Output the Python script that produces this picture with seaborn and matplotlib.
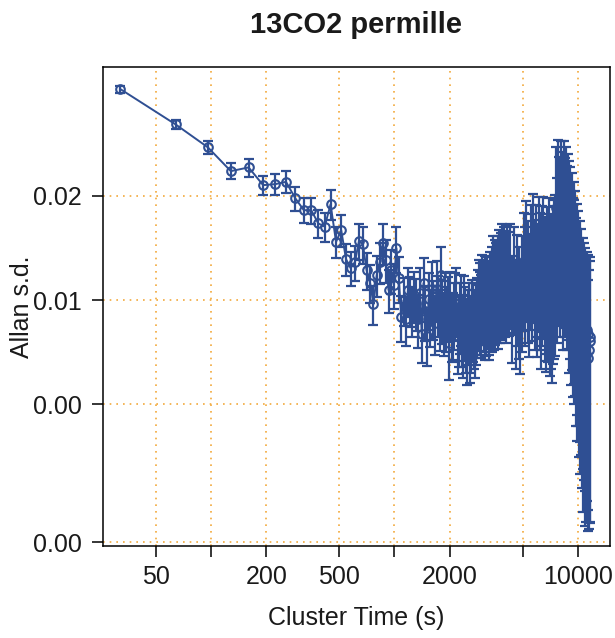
import numpy as np
import pandas as pd
import matplotlib
matplotlib.use("Agg")
import matplotlib.pyplot as plt
import seaborn as sns
from matplotlib.ticker import FixedLocator, FixedFormatter, NullLocator

# ---- data ----
tau = [
    32, 64, 96, 128, 160, 192, 224, 256, 288, 320,
    352, 384, 416, 448, 480, 512, 544, 576, 608, 640,
    672, 704, 736, 768, 800, 832, 864, 896, 928, 960,
    992, 1024, 1056, 1088, 1120, 1152, 1184, 1216, 1248, 1280,
    1312, 1344, 1376, 1408, 1440, 1472, 1504, 1536, 1568, 1600,
    1632, 1664, 1696, 1728, 1760, 1792, 1824, 1856, 1888, 1920,
    1952, 1984, 2016, 2048,
    2112, 2176, 2240, 2304, 2368, 2432, 2496, 2560, 2624, 2688,
    2752, 2816, 2880, 2944, 3008, 3072, 3136, 3200, 3264, 3328,
    3392, 3456, 3520, 3584, 3648, 3712, 3776, 3840, 3904, 3968,
    4032, 4096,
    4192, 4288, 4384, 4480, 4576, 4672, 4768, 4864, 4960, 5056,
    5152, 5248, 5344, 5440, 5536, 5632, 5728, 5824, 5920, 6016,
    6112, 6208, 6304, 6400, 6496, 6592, 6688, 6784, 6880, 6976,
    7072, 7168, 7264, 7360, 7456, 7552, 7648, 7744, 7840, 7936,
    8032, 8128, 8224, 8320, 8416, 8512, 8608, 8704, 8800, 8896,
    8992, 9088, 9184, 9280, 9376, 9472, 9568, 9664, 9760, 9856,
    9952, 10048, 10144, 10240, 10336, 10432, 10528, 10624, 10720, 10816,
    10912, 11008, 11104, 11200, 11296, 11392, 11488, 11584, 11680,
]

allan_sd = [
    0.04065, 0.03215, 0.0276, 0.02357, 0.02416, 0.02148, 0.02162, 0.02195, 0.01966, 0.01819,
    0.01815, 0.01665, 0.0163, 0.01889, 0.01473, 0.01592, 0.01313, 0.01237, 0.01287, 0.0148,
    0.01451, 0.01221, 0.0112, 0.00974, 0.01181, 0.0129, 0.01461, 0.01305, 0.01069, 0.01221,
    0.01105, 0.01413, 0.01157, 0.00893, 0.0100, 0.0088, 0.01069, 0.0100, 0.00936, 0.01034,
    0.0098, 0.0088, 0.0105, 0.0080, 0.0112, 0.0093, 0.0079, 0.0101, 0.0090, 0.0108,
    0.0095, 0.0086, 0.0108, 0.0098, 0.0089, 0.0118, 0.0094, 0.0087, 0.0099, 0.0090,
    0.0096, 0.0075, 0.0099, 0.0085,
    0.0092, 0.0101, 0.0083, 0.0096, 0.0078, 0.0088, 0.0075, 0.0090, 0.0082, 0.0089,
    0.0080, 0.0092, 0.0103, 0.0095, 0.0106, 0.0098, 0.0093, 0.0104, 0.0097, 0.0107,
    0.0100, 0.0118, 0.0106, 0.0112, 0.0104, 0.0122, 0.0113, 0.0126, 0.0116, 0.0120,
    0.0111, 0.0124,
    0.0118, 0.0124, 0.0100, 0.0121, 0.0097, 0.0114, 0.0105, 0.0096, 0.0112, 0.0130,
    0.0118, 0.0140, 0.0122, 0.0112, 0.0135, 0.0127, 0.0144, 0.0121, 0.0133, 0.0117,
    0.0140, 0.0125, 0.0111, 0.0130, 0.0138, 0.0120, 0.0112, 0.0128, 0.0122, 0.0135,
    0.0113, 0.0119, 0.0110, 0.0126, 0.0131, 0.0135, 0.0185, 0.0150, 0.0193, 0.0172,
    0.0160, 0.0190, 0.0176, 0.0152, 0.0188, 0.0168, 0.0180, 0.0158, 0.0170, 0.0162,
    0.0140, 0.0155, 0.0132, 0.0148, 0.0125, 0.0138, 0.0122, 0.0130, 0.0108, 0.0118,
    0.0100, 0.0112, 0.0093, 0.0104, 0.0085, 0.0098, 0.0080, 0.0092, 0.0070, 0.0088,
    0.0066, 0.0085, 0.0070, 0.0082, 0.0068, 0.0080, 0.0072, 0.0076, 0.0078,
]

allan_sd_err = [
    0.0009, 0.0010, 0.0012, 0.00123, 0.00143, 0.00137, 0.00149, 0.00162, 0.00155, 0.00151,
    0.00158, 0.00152, 0.00155, 0.00185, 0.0015, 0.00169, 0.00143, 0.00139, 0.00148, 0.00175,
    0.00176, 0.00151, 0.00142, 0.00127, 0.00157, 0.00174, 0.00202, 0.00183, 0.00153, 0.00178,
    0.00164, 0.00213, 0.00177, 0.00138, 0.00158, 0.00141, 0.00173, 0.00165, 0.00156, 0.00175,
    0.00168, 0.00153, 0.00185, 0.00142, 0.00202, 0.00169, 0.00145, 0.00188, 0.0017, 0.00207,
    0.00183, 0.00168, 0.00213, 0.00195, 0.00179, 0.0024, 0.00193, 0.0018, 0.00207, 0.0019,
    0.00204, 0.00161, 0.00215, 0.00186,
    0.00204, 0.00228, 0.00191, 0.00224, 0.00185, 0.00211, 0.00183, 0.00223, 0.00206, 0.00227,
    0.00206, 0.00241, 0.00273, 0.00256, 0.00288, 0.0027, 0.00259, 0.00293, 0.00276, 0.00308,
    0.00292, 0.00348, 0.00316, 0.00337, 0.00316, 0.00375, 0.00351, 0.00396, 0.00368, 0.00384,
    0.00359, 0.00404,
    0.0039, 0.00415, 0.0034, 0.00416, 0.00339, 0.00404, 0.00376, 0.00348, 0.00411, 0.00484,
    0.00444, 0.00533, 0.0047, 0.00437, 0.00532, 0.00507, 0.0058, 0.00492, 0.00548, 0.00487,
    0.00589, 0.00531, 0.00477, 0.00564, 0.00606, 0.00532, 0.00502, 0.00579, 0.00558, 0.00622,
    0.00527, 0.00559, 0.00523, 0.00605, 0.00634, 0.0066, 0.00912, 0.00747, 0.00971, 0.00872,
    0.00819, 0.00982, 0.00917, 0.008, 0.00998, 0.00899, 0.00972, 0.00861, 0.00935, 0.00899,
    0.00783, 0.00874, 0.00751, 0.0085, 0.00724, 0.00806, 0.00719, 0.00772, 0.00647, 0.00713,
    0.00609, 0.00688, 0.00577, 0.0065, 0.00536, 0.00622, 0.00513, 0.00594, 0.00456, 0.00578,
    0.00437, 0.00568, 0.00471, 0.00557, 0.00465, 0.00552, 0.00501, 0.00533, 0.00551,
]

# extra cluster times in the dense middle stretch (odd cluster counts 65..127)
tau_mid = [
    2080, 2144, 2208, 2272, 2336, 2400, 2464, 2528, 2592, 2656,
    2720, 2784, 2848, 2912, 2976, 3040, 3104, 3168, 3232, 3296,
    3360, 3424, 3488, 3552, 3616, 3680, 3744, 3808, 3872, 3936,
    4000, 4064,
]
allan_sd_mid = [
    0.0086, 0.0098, 0.0079, 0.0091, 0.0084, 0.0095, 0.0081, 0.0086, 0.0077, 0.0091,
    0.0085, 0.0088, 0.0097, 0.0101, 0.0093, 0.0102, 0.0105, 0.0096, 0.0101, 0.0094,
    0.0103, 0.0110, 0.0102, 0.0115, 0.0108, 0.0117, 0.0109, 0.0119, 0.0112, 0.0123,
    0.0115, 0.0119,
]
allan_sd_err_mid = [
    0.0019, 0.0022, 0.0018, 0.00211, 0.00197, 0.00227, 0.00196, 0.00212, 0.00192, 0.0023,
    0.00218, 0.00229, 0.00255, 0.0027, 0.00251, 0.00279, 0.00291, 0.00269, 0.00286, 0.0027,
    0.00299, 0.00322, 0.00302, 0.00345, 0.00327, 0.00358, 0.00337, 0.00371, 0.00353, 0.00391,
    0.0037, 0.00387,
]

x_ticks = [50, 100, 200, 500, 1000, 2000, 5000, 10000]
x_tick_labels = ["50", "", "200", "500", "", "2000", "", "10000"]
y_ticks = [0.002, 0.005, 0.01, 0.02]
y_tick_labels = ["0.00", "0.00", "0.01", "0.02"]

title = "13CO2 permille"
x_label = "Cluster Time (s)"
y_label = "Allan s.d."

# ---- styling ----
sns.set_theme(style="ticks")
plt.rcParams["font.family"] = ["Liberation Sans", "DejaVu Sans"]

color = "#2f4f93"
grid_color = "#f2a93b"

fig = plt.figure(figsize=(6.15, 6.38), dpi=100)
ax = fig.add_axes([103 / 615, 1 - 546 / 638, 507 / 615, 479 / 638])

df = pd.concat([
    pd.DataFrame({"tau": tau, "adev": allan_sd, "err": allan_sd_err}),
    pd.DataFrame({"tau": tau_mid, "adev": allan_sd_mid, "err": allan_sd_err_mid}),
]).sort_values("tau").reset_index(drop=True)

ax.errorbar(df["tau"], df["adev"], yerr=df["err"], fmt="none", ecolor=color,
            elinewidth=1.6, capsize=3.6, capthick=1.6, zorder=3)
sns.lineplot(data=df, x="tau", y="adev", ax=ax, color=color, linewidth=1.4,
             marker="o", markersize=6.2, markerfacecolor="none",
             markeredgecolor=color, markeredgewidth=1.5, zorder=4,
             errorbar=None)

ax.set_xscale("log")
ax.set_yscale("log")
ax.set_xlim(25.7, 14980)
ax.set_ylim(0.00195, 0.0471)

ax.xaxis.set_major_locator(FixedLocator(x_ticks))
ax.xaxis.set_major_formatter(FixedFormatter(x_tick_labels))
ax.xaxis.set_minor_locator(NullLocator())
ax.yaxis.set_major_locator(FixedLocator(y_ticks))
ax.yaxis.set_major_formatter(FixedFormatter(y_tick_labels))
ax.yaxis.set_minor_locator(NullLocator())

ax.grid(True, which="major", color=grid_color, linestyle=(0, (1, 3)), linewidth=1.2)
ax.set_axisbelow(True)

for s in ax.spines.values():
    s.set_visible(True)
    s.set_color("black")
    s.set_linewidth(1.1)

ax.tick_params(axis="both", which="major", length=8, width=1.1, color="black",
               labelsize=18, labelcolor="#1a1a1a")
ax.tick_params(axis="x", pad=6)
ax.tick_params(axis="y", pad=7)

ax.set_xlabel(x_label, fontsize=18, color="#1a1a1a")
ax.set_ylabel(y_label, fontsize=18, color="#1a1a1a")
ax.xaxis.set_label_coords(0.5, -0.125)
ax.yaxis.set_label_coords(-0.136, 0.5)

fig.text(356 / 615, 1 - 25 / 638, title, ha="center", va="center",
         fontsize=21, fontweight="bold", color="#1a1a1a")

fig.savefig("out.png", dpi=100)
